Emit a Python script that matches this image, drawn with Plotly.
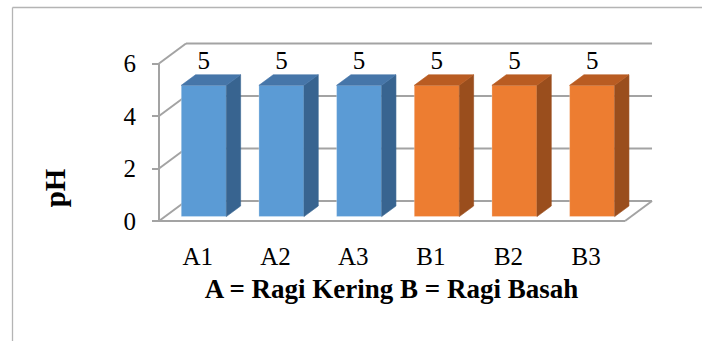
import plotly.graph_objects as go

# ---- data ----
categories = ["A1", "A2", "A3", "B1", "B2", "B3"]
ragi_kering_cats = ["A1", "A2", "A3"]
ragi_kering_ph = [5, 5, 5]
ragi_basah_cats = ["B1", "B2", "B3"]
ragi_basah_ph = [5, 5, 5]
y_ticks = [0, 2, 4, 6]
x_title = "A = Ragi Kering B = Ragi Basah"
y_title = "pH"

# ---- page geometry (pixels) ----
W, H = 702, 341
X0_PX, Y0_PX = 159, 221          # front-plane origin: category 0, pH 0
CAT_PX, UNIT_PX = 77.67, 26.25   # pixels per category slot / per pH unit
XDOM_PX = (130, 653)             # left, right of plotting area
YDOM_PX = (40, 336)              # top, bottom of plotting area

x_range = [(XDOM_PX[0] - X0_PX) / CAT_PX, (XDOM_PX[1] - X0_PX) / CAT_PX]
y_range = [(Y0_PX - YDOM_PX[1]) / UNIT_PX, (Y0_PX - YDOM_PX[0]) / UNIT_PX]
x_domain = [XDOM_PX[0] / W, XDOM_PX[1] / W]
y_domain = [1 - YDOM_PX[1] / H, 1 - YDOM_PX[0] / H]

# ---- pseudo-3D projection (in axis units) ----
DX = 27 / CAT_PX      # depth of the box, horizontal component
DY = 20 / UNIT_PX     # depth of the box, vertical component
F = 0.22              # bar front face sits this far into the box
G = 0.53              # bar depth as share of box depth
BAR_W = 0.58

FONT = "Liberation Serif"
GRID = "#A3A3A3"

fig = go.Figure()

n = len(categories)
top_tick = max(y_ticks)

# walls and floor of the 3D box
shapes = []
def seg(x0, y0, x1, y1, width=2, color=GRID):
    shapes.append(dict(type="line", xref="x", yref="y", x0=x0, y0=y0, x1=x1, y1=y1,
                       line=dict(color=color, width=width), layer="below"))

for v in y_ticks:
    seg(DX, v + DY, n + DX, v + DY)          # back wall gridline
    seg(0, v, DX, v + DY)                    # side wall diagonal
seg(0, 0, n, 0)                              # floor front edge
seg(n, 0, n + DX, DY)                        # floor right edge
seg(0, 0, 0, top_tick)                       # vertical axis line

# outer frame
shapes.append(dict(type="line", xref="paper", yref="paper",
                   x0=12.5 / W, y0=1 - 7.5 / H, x1=12.5 / W, y1=0,
                   line=dict(color="#B4B4B4", width=1.3)))
shapes.append(dict(type="line", xref="paper", yref="paper",
                   x0=12.5 / W, y0=1 - 7.5 / H, x1=1, y1=1 - 7.5 / H,
                   line=dict(color="#B4B4B4", width=1.3)))


def add_series(cats, values, front, top, side):
    centers = [categories.index(c) + 0.5 + F * DX for c in cats]
    base = F * DY
    fig.add_trace(go.Bar(
        x=centers, y=values, base=base, width=BAR_W,
        marker=dict(color=front, line=dict(color="rgba(255,255,255,0.35)", width=0.8)),
        hoverinfo="skip", showlegend=False,
    ))
    sx, sy, tx, ty = [], [], [], []
    for cx, v in zip(centers, values):
        xl, xr = cx - BAR_W / 2, cx + BAR_W / 2
        yb, yt = base, v + base
        sx += [xr, xr + G * DX, xr + G * DX, xr, xr, None]
        sy += [yb, yb + G * DY, yt + G * DY, yt, yb, None]
        tx += [xl, xr, xr + G * DX, xl + G * DX, xl, None]
        ty += [yt, yt, yt + G * DY, yt + G * DY, yt, None]
    fig.add_trace(go.Scatter(x=sx, y=sy, mode="lines", fill="toself", fillcolor=side,
                             line=dict(color=side, width=0.6),
                             hoverinfo="skip", showlegend=False))
    fig.add_trace(go.Scatter(x=tx, y=ty, mode="lines", fill="toself", fillcolor=top,
                             line=dict(color=top, width=0.6),
                             hoverinfo="skip", showlegend=False))
    fig.add_trace(go.Scatter(
        x=centers, y=[v + (F + G) * DY for v in values],
        text=[str(v) for v in values], mode="text", textposition="top center",
        textfont=dict(family=FONT, size=25, color="black"),
        cliponaxis=False, hoverinfo="skip", showlegend=False,
    ))


add_series(ragi_kering_cats, ragi_kering_ph, "#5B9BD5", "#4676A9", "#386490")
add_series(ragi_basah_cats, ragi_basah_ph, "#ED7D31", "#B95C22", "#9A4E1D")

fig.update_layout(
    width=W, height=H,
    margin=dict(l=0, r=0, t=0, b=0),
    paper_bgcolor="white", plot_bgcolor="white",
    barmode="overlay",
    shapes=shapes,
    font=dict(family=FONT, color="black"),
    xaxis=dict(
        domain=x_domain, range=x_range, anchor="free", position=1 - Y0_PX / H,
        tickvals=[i + 0.5 for i in range(n)], ticktext=categories,
        ticks="", showgrid=False, zeroline=False, showline=False,
        tickfont=dict(family=FONT, size=25, color="black"),
        ticklabelstandoff=18,
        title=dict(text=x_title, standoff=10,
                   font=dict(family=FONT, size=27, color="black", weight="bold")),
        fixedrange=True,
    ),
    yaxis=dict(
        domain=y_domain, range=y_range, anchor="free", position=X0_PX / W,
        tickvals=y_ticks, ticks="outside", ticklen=7, tickwidth=2, tickcolor=GRID,
        showgrid=False, zeroline=False, showline=False,
        tickfont=dict(family=FONT, size=25, color="black"),
        ticklabelstandoff=11,
        title=dict(text=y_title, standoff=48,
                   font=dict(family=FONT, size=29, color="black", weight="bold")),
        fixedrange=True,
    ),
)

fig.write_html("out.html")
